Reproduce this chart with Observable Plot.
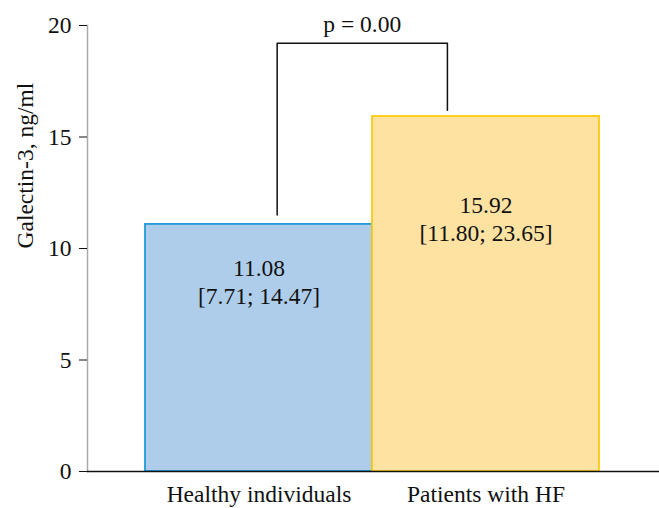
<!DOCTYPE html>
<html>
<head>
<meta charset="utf-8">
<script src="https://cdn.jsdelivr.net/npm/d3@7"></script>
<script src="https://cdn.jsdelivr.net/npm/@observablehq/plot@0.6"></script>
<style>
  html, body { margin: 0; padding: 0; background: #fff; }
</style>
</head>
<body>
<div id="chart"></div>
<script>
const categories = ["Healthy individuals", "Patients with HF"];
const medians = [11.08, 15.92];
const ranges = ["[7.71; 14.47]", "[11.80; 23.65]"];
const labelAt = [8.55, 11.38];
const fills = ["#aecdeb", "#fde2a1"];
const strokes = ["#1f9bd7", "#fdcb10"];
const yTicks = [0, 5, 10, 15, 20];
const pLabel = "p = 0.00";
// bracket path in data space (x: position along categories 0..2, y: ng/ml)
const bracketX = [0.58, 0.58, 1.33, 1.33];
const bracketY = [11.5, 19.2, 19.2, 16.2];

const bars = categories.map((c, i) => ({
  cat: c, x1: i, x2: i + 1, xm: i + 0.5, value: medians[i],
  label: medians[i].toFixed(2) + "\n" + ranges[i], labelY: labelAt[i],
  fill: fills[i], stroke: strokes[i]
}));
const bracket = bracketX.map((x, i) => ({x, y: bracketY[i]}));

const font = "Liberation Serif, serif";
const fs = 23.5;

const chart = Plot.plot({
  width: 659,
  height: 508,
  marginLeft: 87,
  marginRight: 0,
  marginTop: 25,
  marginBottom: 37,
  style: {fontFamily: font, fontSize: fs + "px", color: "#111", background: "#fff"},
  x: {domain: [0, 2], range: [145, 599]},
  y: {domain: [0, 20]},
  marks: [
    Plot.frame({anchor: "left", stroke: "#aaaaaa", strokeWidth: 1.5}),
    Plot.rectY(bars, {x1: "x1", x2: "x2", y1: 0, y2: "value", fill: "fill", stroke: "stroke", strokeWidth: 1.8, inset: 0}),
    Plot.ruleY([0], {stroke: "#111", strokeWidth: 1.5}),
    Plot.axisY({ticks: yTicks, tickSize: 8, tickPadding: 8, label: null, fontSize: fs, fontFamily: font, stroke: "#111", color: "#111"}),
    Plot.axisX({ticks: [0.5, 1.5], tickFormat: d => categories[Math.floor(d)], tickSize: 0, tickPadding: 14, label: null, fontSize: fs, fontFamily: font}),
    Plot.text(["Galectin-3, ng/ml"], {frameAnchor: "left", dx: -62, rotate: -90, fontSize: fs, fontFamily: font, fill: "#111"}),
    Plot.text(bars, {x: "xm", y: "labelY", text: "label", fontSize: fs, fontFamily: font, lineHeight: 1.2, lineAnchor: "middle", fill: "#111"}),
    Plot.line(bracket, {x: "x", y: "y", stroke: "#111", strokeWidth: 1.5, curve: "linear"}),
    Plot.text([pLabel], {x: 0.955, y: 20.05, fontSize: fs, fontFamily: font, lineAnchor: "middle", fill: "#111"})
  ]
});
document.getElementById("chart").appendChild(chart);
</script>
</body>
</html>
